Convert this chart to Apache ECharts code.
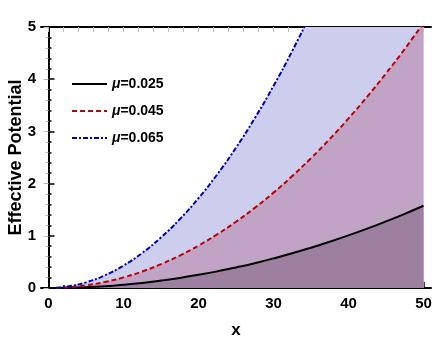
<!DOCTYPE html>
<html>
<head>
<meta charset="utf-8">
<script src="https://cdn.jsdelivr.net/npm/echarts@6/dist/echarts.min.js"></script>
<style>
  html, body { margin: 0; padding: 0; background: #fff; }
  #chart { width: 436px; height: 354px; }
</style>
</head>
<body>
<div id="chart"></div>
<script>
// values
const xs = [1, 2.5, 5, 7.5, 10, 12.5, 15, 17.5, 20, 22.5, 25, 27.5, 30, 32.5, 35, 37.5, 40, 42.5, 45, 47.5, 50];
const mu025 = [0.001, 0.004, 0.016, 0.035, 0.063, 0.098, 0.142, 0.193, 0.252, 0.319, 0.394, 0.476, 0.567, 0.665, 0.772, 0.886, 1.008, 1.138, 1.276, 1.421, 1.575];
const mu045 = [0.002, 0.013, 0.051, 0.114, 0.203, 0.317, 0.457, 0.622, 0.812, 1.028, 1.269, 1.535, 1.827, 2.144, 2.487, 2.855, 3.248, 3.667, 4.111, 4.580, 5.075];
const mu065 = [0.004, 0.027, 0.108, 0.242, 0.430, 0.672, 0.968, 1.317, 1.720, 2.177, 2.688, 3.252, 3.870, 4.542, 5.268, 6.047, 6.880, 7.767, 8.708, 9.702, 10.75];
const seriesNames = ['μ=0.025', 'μ=0.045', 'μ=0.065'];
const xTicks = [0, 10, 20, 30, 40, 50];
const xMinorTicks = [2, 4, 6, 8, 12, 14, 16, 18, 22, 24, 26, 28, 32, 34, 36, 38, 42, 44, 46, 48];
const yTicks = [0, 1, 2, 3, 4, 5];

const pts = ys => xs.map((x, i) => [x, ys[i]]);

const chart = echarts.init(document.getElementById('chart'));

const font = 'Liberation Sans, Arial, sans-serif';
const frameLine = { show: true, lineStyle: { color: '#000', width: 2 } };

const option = {
  animation: false,
  textStyle: { fontFamily: font },
  grid: { left: 41, right: 5, top: 27, bottom: 66, outerBoundsMode: 'none', containLabel: false },
  legend: {
    orient: 'vertical',
    left: 66,
    top: 72,
    itemWidth: 35,
    itemHeight: 14,
    itemGap: 13,
    data: seriesNames,
    itemStyle: { opacity: 0 },
    formatter: name => '{i|μ}{b|' + name.slice(1) + '}',
    textStyle: {
      rich: {
        i: { fontStyle: 'italic', fontWeight: 'bold', fontSize: 14, color: '#000', fontFamily: font },
        b: { fontWeight: 'bold', fontSize: 14, color: '#000', fontFamily: font }
      }
    }
  },
  xAxis: [
    {
      type: 'value', min: -1, max: 51, position: 'bottom',
      name: 'x', nameLocation: 'middle', nameGap: 34, nameMoveOverlap: false,
      nameTextStyle: { fontWeight: 'bold', fontSize: 17, color: '#000' },
      axisLine: frameLine,
      axisTick: { show: true, inside: true, length: 6, customValues: xTicks, lineStyle: { color: '#000', width: 1.5 } },
      axisLabel: { customValues: xTicks, fontWeight: 'bold', fontSize: 15, color: '#000', margin: 8 },
      splitLine: { show: false }
    },
    {
      type: 'value', min: -1, max: 51, position: 'bottom',
      axisLine: { show: false },
      axisTick: { show: true, inside: true, length: 3, customValues: xMinorTicks, lineStyle: { color: '#000', width: 1.5 } },
      axisLabel: { show: false },
      splitLine: { show: false }
    },
    {
      type: 'value', min: -1, max: 51, position: 'top',
      axisLine: frameLine,
      axisTick: { show: true, inside: true, length: 5, customValues: xTicks.concat(xMinorTicks), lineStyle: { color: '#bbb' } },
      axisLabel: { show: false },
      splitLine: { show: false }
    }
  ],
  yAxis: [
    {
      type: 'value', min: 0, max: 5, interval: 1, position: 'left',
      name: 'Effective Potential', nameLocation: 'middle', nameGap: 16, nameMoveOverlap: false,
      nameTextStyle: { fontWeight: 'bold', fontSize: 18, color: '#000' },
      axisLine: frameLine,
      axisTick: { show: true, inside: true, length: 6, lineStyle: { color: '#000', width: 1.5 } },
      minorTick: { show: true, splitNumber: 5, length: 3, lineStyle: { color: '#000', width: 1.5 } },
      axisLabel: { fontWeight: 'bold', fontSize: 15, color: '#000', margin: 5, customValues: yTicks },
      splitLine: { show: false }
    },
    {
      type: 'value', min: 0, max: 5, interval: 1, position: 'right',
      axisLine: frameLine,
      axisTick: { show: true, inside: true, length: 5, lineStyle: { color: '#bbb' } },
      minorTick: { show: true, splitNumber: 5, length: 3, lineStyle: { color: '#bbb' } },
      axisLabel: { show: false },
      splitLine: { show: false }
    }
  ],
  series: [
    // filled regions, widest first
    { type: 'line', data: pts(mu065), symbol: 'none', silent: true, z: 1,
      lineStyle: { width: 0 }, areaStyle: { color: '#cdcdee', opacity: 1 } },
    { type: 'line', data: pts(mu045), symbol: 'none', silent: true, z: 1,
      lineStyle: { width: 0 }, areaStyle: { color: '#c0a3c5', opacity: 1 } },
    { type: 'line', data: pts(mu025), symbol: 'none', silent: true, z: 1,
      lineStyle: { width: 0 }, areaStyle: { color: '#9d809f', opacity: 1 } },
    // curves
    { name: seriesNames[0], type: 'line', data: pts(mu025), symbol: 'none', smooth: true, z: 3,
      color: '#000', lineStyle: { color: '#000', width: 2 } },
    { name: seriesNames[1], type: 'line', data: pts(mu045), symbol: 'none', smooth: true, z: 3,
      color: '#c00000', lineStyle: { color: '#c00000', width: 2, type: [5, 3] } },
    { name: seriesNames[2], type: 'line', data: pts(mu065), symbol: 'none', smooth: true, z: 3,
      color: '#0000c0', lineStyle: { color: '#0000c0', width: 2, type: [5, 2, 2, 2] } }
  ]
};

chart.setOption(option);
</script>
</body>
</html>
